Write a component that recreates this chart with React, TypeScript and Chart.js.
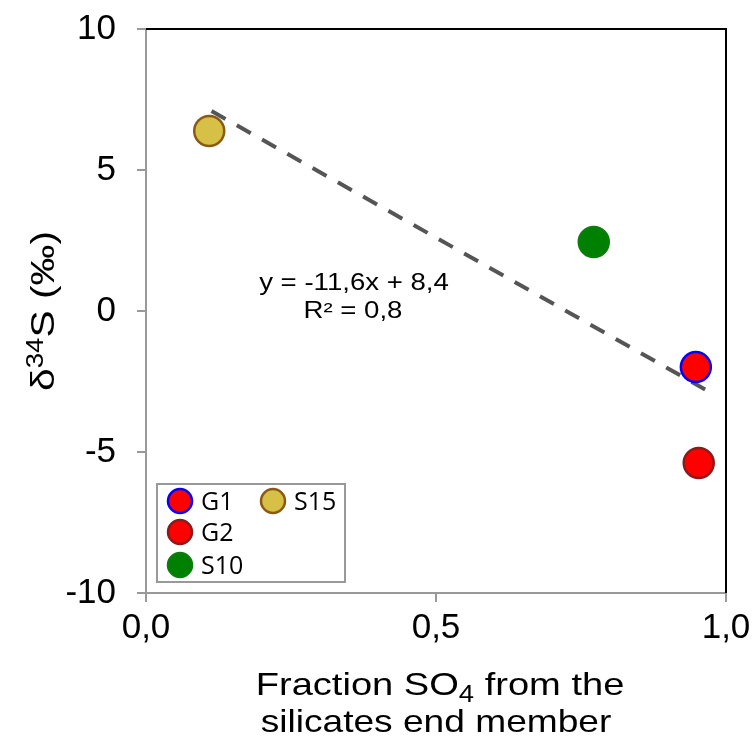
import React, { useEffect, useRef } from 'react';
import { Chart, registerables } from 'chart.js';

Chart.register(...registerables);

// ---- data ----
const seriesNames = ['G1', 'G2', 'S10', 'S15'];
const xValues = [0.948, 0.953, 0.772, 0.109];
const yValues = [-1.99, -5.39, 2.45, 6.38];
const fillColors = ['#ff0000', '#ff0000', '#008000', '#d6c045'];
const borderColors = ['#0000ff', '#8b1a1a', '#0b7d0b', '#8a5a14'];
const trendX = [0.113, 0.964];
const trendY = [7.09, -2.78];
const xTicks = [0, 0.5, 1];
const yTicks = [-10, -5, 0, 5, 10];
const trendLabel = ['y = -11,6x + 8,4', 'R² = 0,8'];
const legendCols = [['G1', 'G2', 'S10'], ['S15']];

const FONT = '"Liberation Sans", Arial, Helvetica, sans-serif';
const LEGEND_FONT = '"Open Sans", "DejaVu Sans", sans-serif';

type Run = { t: string; size: number; dy: number };

function drawRuns(ctx: CanvasRenderingContext2D, runs: Run[], cx: number, baseY: number, sx: number) {
  let total = 0;
  const widths = runs.map((r) => {
    ctx.font = `${r.size}px ${FONT}`;
    const w = ctx.measureText(r.t).width;
    total += w;
    return w;
  });
  ctx.save();
  ctx.translate(cx, baseY);
  ctx.scale(sx, 1);
  let x = -total / 2;
  ctx.textAlign = 'left';
  ctx.textBaseline = 'alphabetic';
  runs.forEach((r, i) => {
    ctx.font = `${r.size}px ${FONT}`;
    ctx.fillText(r.t, x, r.dy);
    x += widths[i];
  });
  ctx.restore();
}

const decorPlugin = {
  id: 'decor',
  afterDraw(chart: any) {
    const { ctx, chartArea: a } = chart;
    ctx.save();
    ctx.fillStyle = '#000';
    // top / right frame
    ctx.strokeStyle = '#000';
    ctx.lineWidth = 2;
    ctx.beginPath();
    ctx.moveTo(a.left, a.top);
    ctx.lineTo(a.right, a.top);
    ctx.lineTo(a.right, a.bottom);
    ctx.stroke();

    // y title
    ctx.save();
    ctx.translate(54, (a.top + a.bottom) / 2);
    ctx.rotate(-Math.PI / 2);
    drawRuns(
      ctx,
      [
        { t: 'δ', size: 34, dy: 0 },
        { t: '34', size: 23, dy: -11 },
        { t: 'S (‰)', size: 34, dy: 0 },
      ],
      0,
      0,
      1.2
    );
    ctx.restore();

    // x title
    const cx = (a.left + a.right) / 2 + 4;
    drawRuns(
      ctx,
      [
        { t: 'Fraction SO', size: 32, dy: 0 },
        { t: '4', size: 23, dy: 7 },
        { t: ' from the', size: 32, dy: 0 },
      ],
      cx,
      695,
      1.19
    );
    drawRuns(ctx, [{ t: 'silicates end member', size: 32, dy: 0 }], cx - 4, 732, 1.16);

    // trend label
    drawRuns(ctx, [{ t: trendLabel[0], size: 23, dy: 0 }], 354, 290, 1.2);
    drawRuns(ctx, [{ t: trendLabel[1], size: 23, dy: 0 }], 353, 318, 1.2);

    // legend
    const bx = a.left + 11;
    const by = a.bottom - 109;
    const bw = 188;
    const bh = 98;
    ctx.fillStyle = '#fff';
    ctx.fillRect(bx, by, bw, bh);
    ctx.strokeStyle = '#999';
    ctx.lineWidth = 2;
    ctx.strokeRect(bx, by, bw, bh);
    const colX = [bx + 23, bx + 116];
    const rowY = [by + 17, by + 48, by + 81];
    legendCols.forEach((col, ci) => {
      col.forEach((name, ri) => {
        const idx = seriesNames.indexOf(name);
        const mx = colX[ci];
        const my = rowY[ri];
        ctx.beginPath();
        ctx.arc(mx, my, 12, 0, Math.PI * 2);
        ctx.fillStyle = fillColors[idx];
        ctx.fill();
        ctx.lineWidth = 2.5;
        ctx.strokeStyle = borderColors[idx];
        ctx.stroke();
        ctx.fillStyle = '#000';
        ctx.font = `25px ${LEGEND_FONT}`;
        ctx.textAlign = 'left';
        ctx.textBaseline = 'alphabetic';
        ctx.fillText(name, mx + 21, my + 9);
      });
    });
    ctx.restore();
  },
};

export default function App() {
  const ref = useRef<HTMLCanvasElement | null>(null);
  useEffect(() => {
    if (!ref.current) return;
    const pointSets = seriesNames.map((name, i) => ({
      label: name,
      data: [{ x: xValues[i], y: yValues[i] }],
      backgroundColor: fillColors[i],
      borderColor: borderColors[i],
      pointBackgroundColor: fillColors[i],
      pointBorderColor: borderColors[i],
      pointBorderWidth: 2.5,
      pointRadius: 15,
      showLine: false,
    }));
    const trend = {
      label: 'trend',
      data: trendX.map((x, i) => ({ x, y: trendY[i] })),
      showLine: true,
      borderColor: '#555555',
      borderWidth: 4,
      borderDash: [16, 13],
      pointRadius: 0,
      fill: false,
    };
    const chart = new Chart(ref.current, {
      type: 'scatter',
      data: { datasets: [...pointSets, trend] as any },
      plugins: [decorPlugin],
      options: {
        animation: false,
        responsive: false,
        layout: { padding: { left: 0, top: 29, right: 30, bottom: 0 } },
        plugins: { legend: { display: false }, tooltip: { enabled: false } },
        scales: {
          x: {
            type: 'linear',
            min: 0,
            max: 1,
            afterBuildTicks: (s: any) => {
              s.ticks = xTicks.map((v) => ({ value: v }));
            },
            afterFit: (s: any) => {
              s.height = 148;
              s.paddingLeft = 0;
              s.paddingRight = 0;
            },
            ticks: {
              color: '#000',
              font: { family: FONT, size: 35 },
              padding: 5,
              maxRotation: 0,
              callback: (v: any) => Number(v).toFixed(1).replace('.', ','),
            },
            grid: { drawOnChartArea: false, drawTicks: true, tickLength: 9, color: '#999', lineWidth: 2 },
            border: { display: true, color: '#999', width: 2 },
          },
          y: {
            type: 'linear',
            min: -10,
            max: 10,
            afterBuildTicks: (s: any) => {
              s.ticks = yTicks.map((v) => ({ value: v }));
            },
            afterFit: (s: any) => {
              s.width = 146;
              s.paddingTop = 0;
              s.paddingBottom = 0;
            },
            ticks: {
              color: '#000',
              font: { family: FONT, size: 35 },
              padding: 21,
              callback: (v: any) => String(v),
            },
            grid: { drawOnChartArea: false, drawTicks: true, tickLength: 9, color: '#999', lineWidth: 2 },
            border: { display: true, color: '#999', width: 2 },
          },
        },
      } as any,
    });
    return () => chart.destroy();
  }, []);
  return (
    <div style={{ position: 'fixed', left: 0, top: 0, width: 756, height: 741, background: '#fff' }}>
      <canvas ref={ref} width={756} height={741} style={{ display: 'block', width: 756, height: 741 }} />
    </div>
  );
}
